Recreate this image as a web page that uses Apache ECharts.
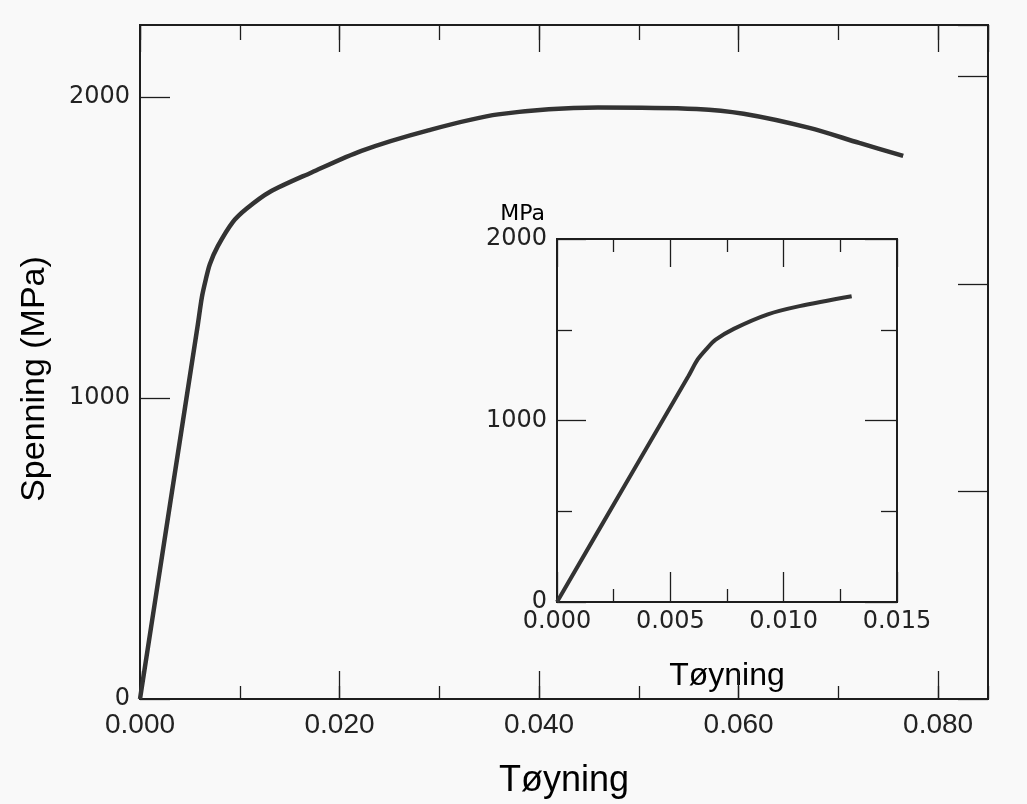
<!DOCTYPE html>
<html>
<head>
    <meta charset="utf-8"/>
    <title>Spenning - tøyning</title>
    <script src="https://cdn.jsdelivr.net/npm/echarts@6/dist/echarts.min.js"></script>
    <style>
        html, body { margin: 0; padding: 0; background: #f9f9f9; }
        #chart { width: 1027px; height: 804px; }
    </style>
</head>
<body>
<div id="chart"></div>
<script>
    // tøyning (strain) og spenning (MPa) lest av kurven
    var strain = [0, 0.0030, 0.0058, 0.0062, 0.0066, 0.0070, 0.0078, 0.0093, 0.0107, 0.0130,
        0.0172, 0.0222, 0.0289, 0.0359, 0.0459, 0.0558, 0.0605, 0.0671, 0.0721, 0.0765];
    var stress = [0, 645, 1245, 1335, 1395, 1445, 1505, 1585, 1630, 1685,
        1750, 1822, 1890, 1943, 1966, 1961, 1945, 1898, 1848, 1805];

    // akser
    var mainXMax = 0.085;
    var mainYMax = 2240;
    var insetXMax = 0.015;
    var insetYMax = 2000;
    var insetStrainLimit = 0.013;
    var MPA_PER_KSI = 6.895;

    var mainData = [];
    var insetData = [];
    for (var i = 0; i < strain.length; i++) {
        mainData.push([strain[i], stress[i]]);
        if (strain[i] <= insetStrainLimit) {
            insetData.push([strain[i], stress[i]]);
        }
    }

    var ink = '#1e1e1e';
    var plain = function (v) { return String(v); };
    var yLabelFont = {color: '#222', fontSize: 24, fontFamily: 'DejaVu Sans', formatter: plain};

    var chart = echarts.init(document.getElementById('chart'));

    function tickAxis(grid, pos, interval, len, max, withLine) {
        return {
            type: 'value', gridIndex: grid, position: pos, min: 0, max: max, interval: interval,
            axisLine: {show: withLine, onZero: false, lineStyle: {color: ink, width: 2}},
            axisTick: {show: true, inside: true, length: len, lineStyle: {color: ink, width: 1.3}},
            axisLabel: {show: false},
            splitLine: {show: false}
        };
    }

    var option = {
        backgroundColor: '#f9f9f9',
        animation: false,
        grid: [
            {left: 140, right: 39, top: 25, bottom: 90, show: true, borderWidth: 2, borderColor: ink, backgroundColor: 'transparent'},
            {left: 557, right: 130, top: 239, bottom: 202, show: true, borderWidth: 2, borderColor: ink, backgroundColor: '#f9f9f9'}
        ],
        xAxis: [
            {
                type: 'value', gridIndex: 0, position: 'bottom', min: 0, max: mainXMax, interval: 0.02,
                name: 'Tøyning', nameLocation: 'middle', nameGap: 64,
                nameTextStyle: {color: '#000', fontSize: 36, fontFamily: 'Liberation Sans'},
                axisLine: {onZero: false, lineStyle: {color: ink, width: 2}},
                axisTick: {inside: true, length: 28, lineStyle: {color: ink, width: 1.3}},
                axisLabel: {
                    color: '#222', fontSize: 28, fontFamily: 'Liberation Sans', margin: 12, showMaxLabel: false,
                    formatter: function (v) { return v.toFixed(3); }
                },
                splitLine: {show: false}
            },
            tickAxis(0, 'bottom', 0.01, 13, mainXMax, false),
            tickAxis(0, 'top', 0.02, 27, mainXMax, true),
            tickAxis(0, 'top', 0.01, 15, mainXMax, false),
            {
                type: 'value', gridIndex: 1, position: 'bottom', min: 0, max: insetXMax, interval: 0.005,
                name: 'Tøyning', nameLocation: 'middle', nameGap: 58,
                nameTextStyle: {color: '#000', fontSize: 32, fontFamily: 'Liberation Sans'},
                axisLine: {onZero: false, lineStyle: {color: ink, width: 2}},
                axisTick: {inside: true, length: 30, lineStyle: {color: ink, width: 1.3}},
                minorTick: {show: true, splitNumber: 2, length: 13, lineStyle: {color: ink, width: 1.3}},
                axisLabel: {
                    color: '#222', fontSize: 24, fontFamily: 'DejaVu Sans', margin: 8,
                    formatter: function (v) { return v.toFixed(3); }
                },
                splitLine: {show: false}
            },
            {
                type: 'value', gridIndex: 1, position: 'top', min: 0, max: insetXMax, interval: 0.005,
                axisLine: {onZero: false, lineStyle: {color: ink, width: 2}},
                axisTick: {inside: true, length: 28, lineStyle: {color: ink, width: 1.3}},
                minorTick: {show: true, splitNumber: 2, length: 13, lineStyle: {color: ink, width: 1.3}},
                axisLabel: {show: false},
                splitLine: {show: false}
            }
        ],
        yAxis: [
            {
                type: 'value', gridIndex: 0, position: 'left', min: 0, max: mainYMax, interval: 1000,
                name: 'Spenning (MPa)', nameLocation: 'middle', nameGap: 88,
                nameTextStyle: {color: '#000', fontSize: 34, fontFamily: 'Liberation Sans', padding: [0, 34, 0, 0]},
                axisLine: {onZero: false, lineStyle: {color: ink, width: 2}},
                axisTick: {inside: true, length: 30, lineStyle: {color: ink, width: 1.3}},
                axisLabel: Object.assign({margin: 10, showMaxLabel: false}, yLabelFont),
                splitLine: {show: false}
            },
            // høyre akse i ksi (bare merker)
            tickAxis(0, 'right', 100, 30, mainYMax / MPA_PER_KSI, true),
            {
                type: 'value', gridIndex: 1, position: 'left', min: 0, max: insetYMax, interval: 1000,
                name: 'MPa', nameLocation: 'end', nameGap: 14,
                nameTextStyle: {color: '#000', fontSize: 22, fontFamily: 'DejaVu Sans', align: 'right', padding: [0, 12, 0, 0]},
                axisLine: {onZero: false, lineStyle: {color: ink, width: 2}},
                axisTick: {inside: true, length: 29, lineStyle: {color: ink, width: 1.3}},
                minorTick: {show: true, splitNumber: 2, length: 15, lineStyle: {color: ink, width: 1.3}},
                axisLabel: Object.assign({margin: 10}, yLabelFont),
                splitLine: {show: false}
            },
            {
                type: 'value', gridIndex: 1, position: 'right', min: 0, max: insetYMax, interval: 1000,
                axisLine: {onZero: false, lineStyle: {color: ink, width: 2}},
                axisTick: {inside: true, length: 32, lineStyle: {color: ink, width: 1.3}},
                minorTick: {show: true, splitNumber: 2, length: 16, lineStyle: {color: ink, width: 1.3}},
                axisLabel: {show: false},
                splitLine: {show: false}
            }
        ],
        series: [
            {
                type: 'line', xAxisIndex: 0, yAxisIndex: 0, data: mainData,
                showSymbol: false, smooth: 0.3,
                lineStyle: {color: '#333', width: 4.5}
            },
            {
                type: 'line', xAxisIndex: 4, yAxisIndex: 2, data: insetData,
                showSymbol: false, smooth: 0.3,
                lineStyle: {color: '#333', width: 4}
            }
        ]
    };

    chart.setOption(option);
</script>
</body>
</html>
